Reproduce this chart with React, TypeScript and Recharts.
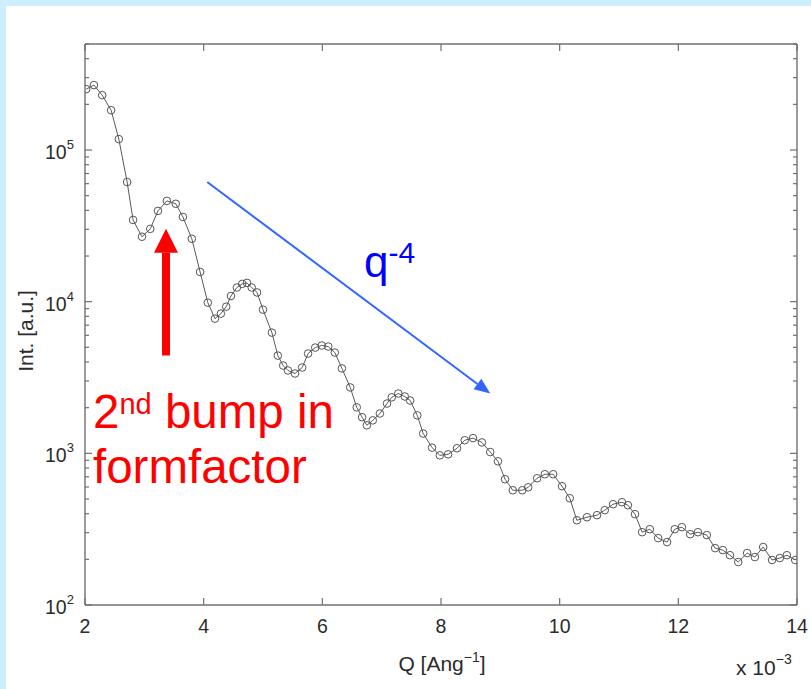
import { LineChart, Line, XAxis, YAxis, ReferenceLine } from 'recharts'

// scattering vector Q (x 10^-3 1/Angstrom)
const qValues = [
  2.02, 2.15, 2.29, 2.44, 2.57, 2.71, 2.81, 2.96, 3.1, 3.23, 3.38, 3.53, 3.65, 3.8, 3.94,
  4.07, 4.19, 4.29, 4.38, 4.46, 4.56, 4.65, 4.73, 4.81, 4.9, 5.0, 5.15, 5.25, 5.34, 5.42,
  5.54, 5.66, 5.76, 5.88, 5.99, 6.1, 6.21, 6.33, 6.47, 6.58, 6.67, 6.75, 6.85, 6.97, 7.09,
  7.17, 7.28, 7.39, 7.48, 7.6, 7.7, 7.85, 7.98, 8.12, 8.27, 8.4, 8.54, 8.69, 8.83, 8.96,
  9.08, 9.21, 9.37, 9.47, 9.62, 9.75, 9.89, 10.04, 10.17, 10.29, 10.46, 10.63, 10.76, 10.9, 11.05,
  11.15, 11.27, 11.39, 11.52, 11.66, 11.81, 11.94, 12.06, 12.2, 12.33, 12.48, 12.62, 12.75, 12.87, 13.01,
  13.16, 13.29, 13.43, 13.58, 13.71, 13.83, 13.97,
]

// measured intensity (a.u.)
const intensity = [
  252000, 268000, 230000, 183000, 118000, 61500, 34600, 26800, 30200, 39700, 46200, 44200, 36200, 26000, 15700,
  9850, 7730, 8340, 9270, 10900, 12400, 13100, 13300, 12400, 11500, 8860, 6250, 4410, 3790, 3520,
  3360, 3680, 4550, 4980, 5140, 5060, 4620, 3630, 2720, 2010, 1730, 1530, 1650, 1830, 2130,
  2340, 2480, 2370, 2230, 1780, 1350, 1090, 970, 985, 1080, 1220, 1260, 1180, 1020, 886,
  675, 571, 571, 597, 685, 728, 728, 607, 506, 362, 379, 391, 422, 462, 476,
  455, 397, 302, 316, 276, 260, 316, 326, 293, 302, 289, 237, 230, 213, 192,
  220, 207, 241, 198, 204, 213, 198,
]

const xTicks = [2, 4, 6, 8, 10, 12, 14]
const yTicks = [
  100, 200, 300, 400, 500, 600, 700, 800, 900,
  1000, 2000, 3000, 4000, 5000, 6000, 7000, 8000, 9000,
  10000, 20000, 30000, 40000, 50000, 60000, 70000, 80000, 90000,
  100000, 200000, 300000, 400000, 500000,
]

const rows = qValues.map((q, i) => ({ q, intensity: intensity[i] }))

const AXIS = '#707070'
const TEXT = '#2b2b2b'
const FONT = '"Liberation Sans", Arial, sans-serif'

const isDecade = (v: number) => Math.abs(Math.log10(v) - Math.round(Math.log10(v))) < 1e-6

function BottomTick({ x, y, payload }: any) {
  return (
    <g>
      <line x1={x} x2={x} y1={y} y2={y - 7} stroke={AXIS} strokeWidth={1.2} />
      <text x={x} y={y + 28} textAnchor="middle" fontSize={19.5} fill={TEXT} fontFamily={FONT}>
        {payload.value}
      </text>
    </g>
  )
}

function TopTick({ x, y }: any) {
  return <line x1={x} x2={x} y1={y} y2={y + 7} stroke={AXIS} strokeWidth={1.2} />
}

function LeftTick({ x, y, payload }: any) {
  const v = payload.value
  const major = isDecade(v)
  return (
    <g>
      <line x1={x} x2={x + (major ? 7 : 4)} y1={y} y2={y} stroke={AXIS} strokeWidth={1.2} />
      {major && (
        <text x={x - 40} y={y + 9} fontSize={19.5} fill={TEXT} fontFamily={FONT}>
          10
          <tspan dy={-10} fontSize={13}>
            {Math.round(Math.log10(v))}
          </tspan>
        </text>
      )}
    </g>
  )
}

function RightTick({ x, y, payload }: any) {
  const major = isDecade(payload.value)
  return <line x1={x} x2={x - (major ? 7 : 4)} y1={y} y2={y} stroke={AXIS} strokeWidth={1.2} />
}

// straight arrow from (x1,y1) to the tip at (x2,y2)
function makeArrow(color: string, shaft: number, headLen: number, headHalf: number) {
  return function Arrow(props: any) {
    const { x1, y1, x2, y2 } = props
    const ang = Math.atan2(y2 - y1, x2 - x1)
    const c = Math.cos(ang)
    const s = Math.sin(ang)
    const bx = x2 - headLen * c
    const by = y2 - headLen * s
    const head = [
      [x2, y2],
      [bx - headHalf * s, by + headHalf * c],
      [bx + headHalf * s, by - headHalf * c],
    ]
      .map((p) => p.join(','))
      .join(' ')
    return (
      <g>
        <line x1={x1} y1={y1} x2={bx} y2={by} stroke={color} strokeWidth={shaft} />
        <polygon points={head} fill={color} />
      </g>
    )
  }
}

const RedArrow = makeArrow('#ff0000', 8, 24, 12)
const BlueArrow = makeArrow('#3366ff', 2, 16, 6.5)

export default function App() {
  return (
    <div style={{ position: 'fixed', left: 0, top: 0, width: 811, height: 689, background: '#cdeffd' }}>
      <div style={{ position: 'absolute', left: 6, top: 6, right: 0, bottom: 0, background: '#ffffff' }} />
      <div style={{ position: 'absolute', left: 0, top: 0 }}>
        <LineChart width={811} height={689} data={rows} margin={{ top: 43, right: 13, bottom: 0, left: 0 }}>
          <XAxis
            xAxisId="bottom"
            dataKey="q"
            type="number"
            domain={[2, 14]}
            ticks={xTicks}
            interval={0}
            height={84}
            tickSize={0}
            tickMargin={0}
            tickLine={false}
            axisLine={{ stroke: AXIS, strokeWidth: 1.4 }}
            tick={<BottomTick />}
            allowDataOverflow
          />
          <XAxis
            xAxisId="top"
            orientation="top"
            dataKey="q"
            type="number"
            domain={[2, 14]}
            ticks={xTicks}
            interval={0}
            height={1}
            tickSize={0}
            tickMargin={0}
            tickLine={false}
            axisLine={{ stroke: AXIS, strokeWidth: 1.4 }}
            tick={<TopTick />}
            allowDataOverflow
          />
          <YAxis
            yAxisId="left"
            scale="log"
            type="number"
            domain={[100, 500000]}
            ticks={yTicks}
            interval={0}
            width={85}
            tickSize={0}
            tickMargin={0}
            tickLine={false}
            axisLine={{ stroke: AXIS, strokeWidth: 1.4 }}
            tick={<LeftTick />}
            allowDataOverflow
          />
          <YAxis
            yAxisId="right"
            orientation="right"
            scale="log"
            type="number"
            domain={[100, 500000]}
            ticks={yTicks}
            interval={0}
            width={1}
            tickSize={0}
            tickMargin={0}
            tickLine={false}
            axisLine={{ stroke: AXIS, strokeWidth: 1.4 }}
            tick={<RightTick />}
            allowDataOverflow
          />
          <Line
            xAxisId="bottom"
            yAxisId="left"
            dataKey="intensity"
            type="linear"
            stroke="#5a5a5a"
            strokeWidth={1}
            dot={{ r: 3.8, stroke: '#555555', strokeWidth: 1, fill: 'none' }}
            activeDot={false}
            isAnimationActive={false}
          />
          <ReferenceLine
            xAxisId="bottom"
            yAxisId="left"
            segment={[{ x: 3.365, y: 4420 }, { x: 3.365, y: 30200 }]}
            ifOverflow="visible"
            shape={RedArrow}
          />
          <ReferenceLine
            xAxisId="bottom"
            yAxisId="left"
            segment={[{ x: 4.06, y: 61500 }, { x: 8.83, y: 2480 }]}
            ifOverflow="visible"
            shape={BlueArrow}
          />
        </LineChart>
      </div>
      <svg width={811} height={689} style={{ position: 'absolute', left: 0, top: 0, pointerEvents: 'none' }}>
        <text
          transform="translate(33,331) rotate(-90)"
          textAnchor="middle"
          fontSize={21}
          fill={TEXT}
          fontFamily={FONT}
        >
          Int. [a.u.]
        </text>
        <text x={442} y={671} textAnchor="middle" fontSize={21} fill={TEXT} fontFamily={FONT}>
          Q [Ang
          <tspan dy={-9} fontSize={14}>
            −1
          </tspan>
          <tspan dy={9}>]</tspan>
        </text>
        <text x={736} y={675} fontSize={21} fill={TEXT} fontFamily={FONT}>
          x 10
          <tspan dy={-11} fontSize={14}>
            −3
          </tspan>
        </text>
        <text x={93} y={428} fontSize={47.5} fill="#ff0000" fontFamily={FONT}>
          2
          <tspan dy={-14} fontSize={29}>
            nd
          </tspan>
          <tspan dy={14}> bump in</tspan>
        </text>
        <text x={93} y={483} fontSize={47.5} fill="#ff0000" fontFamily={FONT}>
          formfactor
        </text>
        <text x={364} y={277} fontSize={44} fill="#0000ff" fontFamily={FONT}>
          q
          <tspan dy={-14} fontSize={30}>
            -4
          </tspan>
        </text>
      </svg>
    </div>
  )
}
